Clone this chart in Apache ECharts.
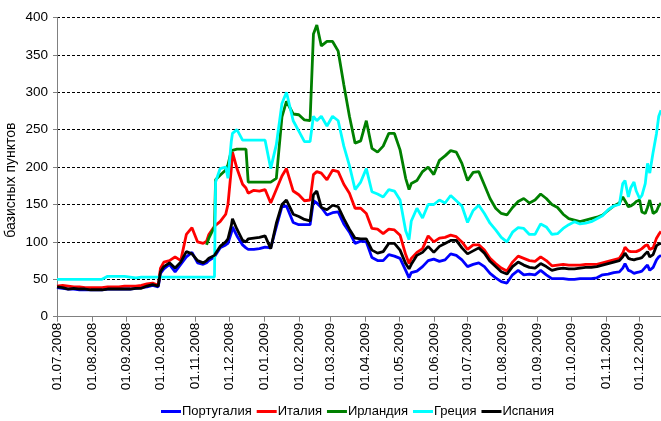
<!DOCTYPE html>
<html>
<head>
<meta charset="utf-8">
<script src="https://cdn.jsdelivr.net/npm/echarts@6/dist/echarts.min.js"></script>
<style>
  html, body { margin: 0; padding: 0; background: #fff; }
  #chart { width: 661px; height: 421px; }
</style>
</head>
<body>
<div id="chart"></div>
<script>
const dates = [
  "2008-07-01","2008-07-06","2008-07-11","2008-07-16","2008-07-21","2008-07-26","2008-07-31",
  "2008-08-05","2008-08-10","2008-08-15","2008-08-20","2008-08-25","2008-08-30",
  "2008-09-04","2008-09-09","2008-09-14","2008-09-19","2008-09-24","2008-09-29",
  "2008-10-01","2008-10-04","2008-10-09","2008-10-14","2008-10-19","2008-10-24","2008-10-29",
  "2008-11-03","2008-11-08","2008-11-11","2008-11-13","2008-11-18","2008-11-19","2008-11-23","2008-11-28","2008-11-30",
  "2008-12-03","2008-12-04","2008-12-08","2008-12-13","2008-12-16","2008-12-18","2008-12-23","2008-12-28",
  "2009-01-02","2009-01-07","2009-01-12","2009-01-17","2009-01-21","2009-01-27",
  "2009-02-01","2009-02-06","2009-02-11","2009-02-14","2009-02-17","2009-02-21","2009-02-26",
  "2009-03-03","2009-03-08","2009-03-13","2009-03-18","2009-03-23","2009-03-28",
  "2009-04-02","2009-04-07","2009-04-12","2009-04-17","2009-04-22","2009-04-27",
  "2009-05-02","2009-05-07","2009-05-10","2009-05-12","2009-05-17","2009-05-22","2009-05-27",
  "2009-06-01","2009-06-06","2009-06-11","2009-06-16","2009-06-21","2009-06-26",
  "2009-07-01","2009-07-06","2009-07-11","2009-07-16","2009-07-21","2009-07-26","2009-07-31",
  "2009-08-05","2009-08-10","2009-08-15","2009-08-20","2009-08-25","2009-08-30",
  "2009-09-04","2009-09-09","2009-09-14","2009-09-19","2009-09-24","2009-09-29",
  "2009-10-04","2009-10-09","2009-10-14","2009-10-19","2009-10-24","2009-10-29",
  "2009-11-03","2009-11-08","2009-11-13","2009-11-16","2009-11-18","2009-11-21","2009-11-23","2009-11-26","2009-11-28",
  "2009-12-01","2009-12-03","2009-12-06","2009-12-08","2009-12-10","2009-12-13","2009-12-16","2009-12-18","2009-12-20"
];

const portugal = [
  39,38,37,37,36,36,36, 36,36,37,37,37,37, 37,38,39,40,42,40,
  58,64,70,60,70,80,86, 72,70,72,75,80,82,92,96,98,
  112,120,108,96,92,90,90,91, 93,92,120,147,148,126,
  123,123,123,155,152,146,136, 139,140,124,113,98,101,
  100,79,75,75,83,81, 78,62,52,59,61,67,75,
  77,74,76,84,82,76, 67,70,72,67,58,52,47,
  45,56,62,56,57,56, 62,56,51,51,51,50,
  50,51,51,51,52,56, 57,59,60,65,71,62,61,58,59,
  60,61,66,69,62,66,76,80,82
];

const italy = [
  41,42,41,40,40,39,39, 39,39,40,40,40,41, 41,41,42,44,45,42,
  65,73,75,80,75,110,119, 100,98,101,110,121,123,127,137,150,
  198,220,198,177,172,165,169,168, 170,152,170,188,198,168,
  163,155,156,190,194,192,183, 196,194,177,165,145,145,
  138,118,117,111,117,116, 109,83,71,78,86,91,108,
  100,105,106,109,107,100, 90,96,96,89,78,71,65,
  61,73,81,78,75,74, 80,75,68,69,70,69,
  69,69,70,70,70,72, 74,76,78,85,93,88,87,87,87,
  89,91,95,96,90,92,105,110,114
];

const ireland = [
  null,null,null,null,null,null,null, null,null,null,null,null,null, null,null,null,null,null,null,
  null,null,null,null,null,null,null, null,null,96,105,120,183,189,196,203,
  222,224,224,224,224,180,180,180, 180,180,185,267,288,271,
  270,263,262,378,390,362,368, 368,355,310,268,232,235,
  262,225,220,228,245,245, 223,185,170,178,182,194,200,
  190,209,215,222,220,205, 182,193,194,176,158,145,138,
  136,146,154,158,152,156, 164,158,150,146,137,131,
  129,127,129,131,133,136, 142,148,152,160,155,147,148,151,154,
  156,140,138,146,156,138,141,148,152
];

const greece = [
  50,50,50,50,50,50,50, 50,50,54,54,54,54, 53,52,53,53,53,53,
  53,53,53,53,53,53,53, 53,53,53,53,53,180,198,200,185,
  235,245,250,236,236,236,236,236, 236,198,230,285,300,262,
  248,234,234,268,262,268,255, 268,262,228,202,170,180,
  198,167,164,160,170,168, 156,115,103,128,145,132,150,
  150,156,152,162,155,148, 126,142,149,138,125,116,106,
  100,113,119,118,110,110, 124,120,110,111,118,123,
  127,124,125,127,131,135, 143,148,150,178,182,160,172,180,168,
  158,162,178,205,192,220,245,268,276
];

const spain = [
  40,39,37,38,37,37,36, 36,36,37,37,37,37, 37,38,38,41,43,41,
  60,67,72,65,73,87,84, 75,72,75,78,82,84,94,100,104,
  122,131,117,102,100,104,105,106, 108,91,125,150,156,137,
  134,130,128,163,168,146,143, 149,147,131,117,105,104,
  104,89,85,87,98,98, 89,71,64,70,82,86,94,
  86,94,98,102,102,92, 84,88,92,85,74,67,60,
  57,67,73,69,66,65, 71,67,62,64,65,64,
  64,65,66,66,67,69, 71,73,75,80,85,78,77,76,77,
  78,79,84,87,80,83,95,97,98
];

const seriesNames = ["Португалия", "Италия", "Ирландия", "Греция", "Испания"];
const seriesColors = ["#0000ff", "#ff0000", "#008000", "#00ffff", "#000000"];
const seriesValues = [portugal, italy, ireland, greece, spain];

// one category per calendar day, so months keep their true widths
const pad = (n) => (n < 10 ? "0" + n : "" + n);
const isoDay = (d) => d.getFullYear() + "-" + pad(d.getMonth() + 1) + "-" + pad(d.getDate());
const days = [];
for (let d = new Date(2008, 6, 1); isoDay(d) <= dates[dates.length - 1]; d.setDate(d.getDate() + 1)) {
  days.push(isoDay(d));
}
const isMonthStart = (idx, value) => value.slice(8) === "01";

const chart = echarts.init(document.getElementById("chart"), null, { renderer: "canvas" });

const option = {
  animation: false,
  textStyle: { fontFamily: "Liberation Sans, Arial, sans-serif", color: "#000" },
  grid: { left: 57, right: 0, top: 17.5, bottom: 104.3, containLabel: false, outerBoundsMode: "none" },
  legend: {
    data: seriesNames,
    bottom: 3,
    left: 161,
    padding: 0,
    icon: "rect",
    itemWidth: 20,
    itemHeight: 3,
    itemGap: 5,
    textStyle: { fontSize: 13, color: "#000", padding: [0, 0, 0, -4] },
  },
  xAxis: {
    type: "category",
    data: days,
    boundaryGap: false,
    axisLine: { show: true, lineStyle: { color: "#808080", width: 1 } },
    axisTick: { show: true, length: 5, interval: isMonthStart, lineStyle: { color: "#808080" } },
    axisLabel: {
      interval: isMonthStart,
      rotate: 90,
      margin: 6,
      fontSize: 13.5,
      color: "#000",
      formatter: (v) => v.slice(8, 10) + "." + v.slice(5, 7) + "." + v.slice(0, 4),
    },
    splitLine: { show: false },
  },
  yAxis: {
    type: "value",
    min: 0,
    max: 400,
    interval: 50,
    name: "базисных пунктов",
    nameLocation: "middle",
    nameRotate: 90,
    nameGap: 39,
    nameMoveOverlap: false,
    nameTextStyle: { fontSize: 14, color: "#000", padding: [0, 26, 0, 0] },
    axisLine: { show: true, lineStyle: { color: "#808080", width: 1 } },
    axisTick: { show: true, length: 4, lineStyle: { color: "#808080" } },
    axisLabel: { fontSize: 13.5, color: "#000", margin: 9 },
    splitLine: { show: true, lineStyle: { color: "#000", type: [3, 2], width: 1 } },
  },
  series: seriesNames.map((name, i) => ({
    name,
    type: "line",
    showSymbol: false,
    symbol: "none",
    connectNulls: false,
    color: seriesColors[i],
    lineStyle: { width: 2.8, color: seriesColors[i] },
    data: dates.map((d, j) => [d, seriesValues[i][j]]),
  })),
};

chart.setOption(option);
</script>
</body>
</html>
